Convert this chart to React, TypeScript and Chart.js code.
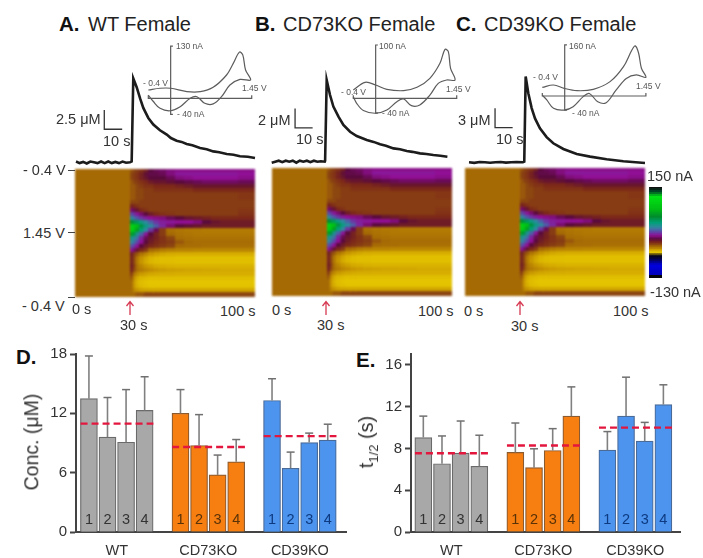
import React, { useEffect, useRef } from "react";
import { Chart, registerables } from "chart.js";

Chart.register(...registerables);

const FONT = '"Liberation Sans", Arial, sans-serif';

// ---------- Panel D / E values ----------
const groupNames = ["WT", "CD73KO", "CD39KO"];
const barNumbers = ["1", "2", "3", "4"];
const concWT = [13.48, 9.6, 9.08, 12.3];
const concCD73 = [12.0, 8.75, 5.77, 7.1];
const concCD39 = [13.3, 6.44, 9.05, 9.3];
const concWTTop = [17.8, 13.6, 14.4, 15.7];
const concCD73Top = [14.4, 11.87, 7.78, 9.35];
const concCD39Top = [15.5, 8.08, 10.0, 10.9];
const concMeans = [10.96, 8.6, 9.7];

const halfWT = [9.05, 6.54, 7.55, 6.29];
const halfCD73 = [7.62, 6.16, 7.81, 11.1];
const halfCD39 = [7.84, 11.1, 8.7, 12.2];
const halfWTTop = [11.1, 9.2, 10.63, 9.27];
const halfCD73Top = [10.44, 7.97, 9.9, 13.9];
const halfCD39Top = [9.62, 14.83, 10.5, 14.1];
const halfMeans = [7.55, 8.29, 10.0];

// ---------- Traces (s, µM) ----------
const traceTimesA = [0, 2, 4, 6, 8, 10, 12, 14, 16, 18, 20, 22, 24, 26, 28, 30.2, 31.1, 32, 33.9, 35.8, 37.6, 40.4, 43.2, 46.9, 50.7, 53, 56.2, 59, 61.8, 65, 69.3, 73, 76.7, 80, 84.2, 88, 91.6, 96, 100];
const traceValuesA = [0.1, -0.1, 0.05, -0.15, 0.1, 0, -0.1, 0.1, -0.1, 0.1, -0.1, 0.05, -0.1, 0.1, -0.05, 0, 0.1, 10.9, 9.75, 8.3, 7.06, 5.76, 4.9, 4.16, 3.6, 3.15, 2.8, 2.65, 2.38, 2.2, 1.86, 1.7, 1.42, 1.3, 1.08, 0.98, 0.78, 0.72, 0.56];
const traceTimesB = [0, 2, 4, 6, 8, 10, 12, 14, 16, 18, 20, 22, 24, 26, 28, 30.2, 30.4, 31.3, 33.2, 35.1, 38, 40.8, 44.6, 48.4, 54.1, 58, 61.7, 65, 69.3, 73, 76.9, 80, 84.4, 88, 92, 96, 100];
const traceValuesB = [-0.1, 0, 0.1, -0.05, 0.1, 0, 0.1, -0.1, 0.1, 0, 0.1, -0.05, 0.1, 0, 0.05, 0, 0.1, 8.45, 6.9, 5.7, 4.66, 3.8, 3.1, 2.66, 2.24, 2.05, 1.8, 1.65, 1.38, 1.28, 1.1, 1.02, 0.86, 0.8, 0.69, 0.62, 0.52];
const traceTimesC = [0, 3, 6, 9, 12, 15, 18, 21, 24, 27, 30.6, 31.4, 32.2, 33.7, 35.6, 37.5, 40.3, 44.1, 47.9, 53.6, 61.2, 68.8, 78.2, 87.7, 100];
const traceValuesC = [0, -0.08, 0.05, 0, -0.08, 0, 0.05, -0.05, 0, 0.05, 0, 0.1, 13.3, 10.7, 8.4, 6.8, 5.27, 3.9, 2.95, 2.07, 1.29, 0.88, 0.47, 0.16, -0.1];

// ---------- Inset voltammograms (V, nA) ----------
const cvPotentialA = [-0.4, -0.19, 0, 0.29, 0.53, 0.76, 1.0, 1.12, 1.23, 1.29, 1.34, 1.43, 1.24, 1.06, 0.91, 0.76, 0.61, 0.47, 0.35, 0.17, -0.01, -0.19, -0.31, -0.4];
const cvCurrentA = [20.7, 25, 25, 16.6, 16.6, 27.4, 58, 87, 115, 108, 70.6, 45.6, 47, 33, 4, -14, -12.5, 4, 0, -21, -31, -25, -8, 8];
const cvPotentialB = [-0.4, -0.19, 0, 0.2, 0.5, 0.74, 0.97, 1.15, 1.24, 1.3, 1.34, 1.42, 1.27, 1.12, 0.97, 0.79, 0.64, 0.5, 0.38, 0.2, 0, -0.22, -0.34, -0.4];
const cvCurrentB = [15.6, 30, 25, 16.9, 14.4, 20.6, 37.5, 65.6, 91.9, 87.5, 56, 34.4, 34.4, 28, 6, -12.5, -13.8, -1.3, -6.3, -21.9, -28, -23, -9.4, 3];
const cvPotentialC = [-0.4, -0.2, -0.01, 0.22, 0.51, 0.81, 1.05, 1.2, 1.26, 1.32, 1.37, 1.45, 1.28, 1.1, 0.92, 0.74, 0.59, 0.44, 0.33, 0.15, -0.01, -0.2, -0.32, -0.4];
const cvCurrentC = [27, 34.5, 24, 16.7, 20.9, 45, 92, 144, 157, 134, 87, 58.6, 66, 55, 19, -21, -18, 8, -2, -33.5, -44, -38.7, -12.5, 3];

// ---------- Colour plot (nA, rows top to bottom, columns by time) ----------
const heatColumnEdges = [0, 30, 31.5, 33, 35, 37.5, 40, 43, 46, 50, 55, 60, 65, 70, 75, 80, 90, 100];
const heatRows = [
  [0, 1, 2, 3, 4, 6, 10, 12, 13, 15, 16, 16, 16, 16, 16, 16, 16],
  [0, 2, 3, 4, 6, 9, 11, 11, 12, 15, 18, 18, 18, 18, 18, 18, 17],
  [0, 2, 3, 4, 6, 8, 10, 10, 10, 12, 15, 16, 17, 17, 17, 17, 16],
  [0, 1, 2, 3, 4, 5, 7, 8, 8, 9, 10, 11, 12, 13, 13, 13, 12],
  [0, 1, 1, 2, 3, 4, 4, 5, 5, 5, 6, 7, 8, 8, 8, 8, 8],
  [0, 1, 1, 2, 2, 3, 3, 4, 4, 4, 4, 4, 5, 5, 5, 5, 5],
  [0, 1, 1, 2, 2, 3, 3, 3, 3, 3, 3, 3, 3, 3, 3, 3, 3.5],
  [0, 1, 1, 2, 2, 3, 3, 3, 3, 3, 3, 3, 3, 3, 3, 3, 3.5],
  [0, 2, 2, 2, 3, 3, 3, 3, 3, 3, 3, 3, 3, 3, 3, 3, 3],
  [0, 6, 5, 4, 3, 3, 3, 3, 3, 3, 3, 3, 3, 3, 3, 3, 3],
  [0, 14, 12, 8, 5, 4, 3, 3, 3, 3, 3, 3, 3, 3, 3, 3, 3.5],
  [0, 25, 22, 18, 14, 10, 7, 5, 4, 3.5, 3, 3, 3, 3, 3, 3, 4],
  [0, 35, 30, 26, 22, 19, 17, 16, 15, 12, 10, 8, 7, 6, 5, 5, 5],
  [0, 60, 55, 50, 42, 34, 28, 22, 19, 18, 17, 17, 15, 10, 8, 7, 7],
  [0, 110, 100, 85, 55, 42, 34, 27, 20, 14, 10, 9, 8, 7, 7, 7, 7],
  [0, 105, 90, 70, 45, 33, 22, 12, 3, -2, -4, -5, -5, -6, -6, -6, -6],
  [0, 70, 55, 38, 28, 18, 10, 6, 3, 0, -3, -4, -5, -5, -5, -5, -5],
  [0, 40, 35, 30, 20, 12, 8, 6, 4, 2, -1, -2, -3, -3, -3, -3, -3],
  [0, 33, 30, 24, 17, 10, 7, 5, 4, 3, 1, 0, -1, -1, -1, -1, -1],
  [0, 26, 22, 17, 10, 7, 5, 4, 3, 2, 0, -1, -1, -2, -2, -2, -2],
  [0, 18, 14, 8, 5, 3, 0, -3, -6, -8, -9, -9, -10, -10, -10, -10, -10],
  [0, 7, 3, 1, -4, -10, -16, -20, -23, -25, -26, -26, -26, -26, -26, -26, -26],
  [0, 6, 2, -5, -14, -22, -28, -31, -32, -32, -33, -33, -33, -33, -33, -33, -33],
  [0, 6, 2, -6, -16, -24, -29, -31, -32, -32, -33, -33, -33, -33, -33, -33, -33],
  [0, 7, 3, -3, -10, -16, -20, -24, -26, -27, -28, -28, -28, -28, -28, -28, -28],
  [0, 6, 2, -2, -6, -10, -13, -16, -18, -20, -21, -22, -22, -23, -23, -24, -24],
  [0, 3, -4, -12, -18, -21, -23, -24, -25, -25, -26, -26, -26, -26, -26, -26, -26],
  [0, 1, -12, -24, -29, -31, -32, -32, -32, -32, -32, -32, -32, -32, -32, -32, -32],
  [0, 0, -16, -28, -32, -34, -35, -35, -35, -35, -35, -35, -35, -35, -35, -35, -35],
  [0, 0, -16, -26, -31, -33, -34, -34, -34, -34, -34, -34, -34, -34, -34, -34, -34],
  [0, 0, -10, -16, -20, -22, -23, -23, -23, -23, -23, -23, -23, -23, -23, -23, -23],
  [0, 0, 0, 1, 1, 2, 2, 2, 2, 2, 2, 2, 2, 2, 2, 2, 2],
];
const colorBarValues = [150, 146, 141, 136, 130, 124, 118, 112, 105, 98, 92, 85, 79, 72, 66, 60, 55, 50, 45, 40, 35, 31, 27, 23, 19, 15, 11, 8, 5, 2, 0, -10, -25, -35, -38, -42, -48, -56, -65, -75, -85, -95, -105, -115, -125, -130];

const colorStopValues = [150, 140, 125, 85, 60, 45, 33, 25, 17, 10, 5, 2, 0, -15, -35, -40, -80, -125, -130];
const colorStopRGB = [
  [15, 15, 15], [0, 70, 40], [0, 225, 20], [0, 190, 20], [0, 140, 45], [0, 160, 120], [50, 135, 160], [90, 75, 170],
  [145, 15, 150], [90, 10, 60], [125, 40, 25], [140, 70, 16], [166, 106, 5], [198, 148, 0], [228, 196, 0],
  [5, 5, 25], [0, 0, 225], [0, 0, 190], [5, 5, 10],
];

function heatColor(v: number) {
  for (let i = 0; i < colorStopValues.length - 1; i++) {
    const a = colorStopValues[i];
    const b = colorStopValues[i + 1];
    if (v <= a && v >= b) {
      const f = (a - v) / (a - b);
      const c = colorStopRGB[i].map((n, k) => Math.round(n + (colorStopRGB[i + 1][k] - n) * f));
      return `rgb(${c[0]},${c[1]},${c[2]})`;
    }
  }
  return "rgb(0,0,0)";
}

const baseOptions = () => ({
  responsive: false,
  animation: false as const,
  events: [] as any[],
  layout: { padding: 0 },
  plugins: { legend: { display: false }, tooltip: { enabled: false }, title: { display: false } },
});

const lineSet = (xs: number[], ys: number[], color: string, width: number, tension = 0, extra: any = {}) => ({
  data: xs.map((x, i) => ({ x, y: ys[i] })),
  showLine: true,
  pointRadius: 0,
  borderColor: color,
  borderWidth: width,
  tension,
  clip: false,
  ...extra,
});

type Rect = { left: number; top: number; width: number; height: number };

// scale ranges that put x0 / y0 at page pixels
function xyScales(r: Rect, x0: number, xv0: number, pxX: number, y0: number, pxY: number) {
  return {
    x: { type: "linear", display: false, min: xv0 + (r.left - x0) / pxX, max: xv0 + (r.left + r.width - x0) / pxX },
    y: { type: "linear", display: false, max: (y0 - r.top) / pxY, min: (y0 - r.top - r.height) / pxY },
  };
}

function traceConfig(r: Rect, ts: number[], vs: number[], x0: number, pxS: number, y0: number, pxU: number, barT: number, barY: number, barU: number) {
  return {
    type: "scatter",
    data: {
      datasets: [
        lineSet(ts, vs, "#1c1c1c", 2.6),
        lineSet([barT, barT, barT + 10], [barY + barU, barY, barY], "#333", 1.3),
      ],
    },
    options: { ...baseOptions(), scales: xyScales(r, x0, 0, pxS, y0, pxU) },
  };
}

function cvConfig(r: Rect, vs: number[], is: number[], x0: number, y0: number, pxV: number, pxI: number, topI: number, botI: number) {
  const tick = 3 / pxI;
  const gray = "#5c5c5c";
  return {
    type: "scatter",
    data: {
      datasets: [
        lineSet(vs, is, gray, 1.2, 0.35),
        lineSet([0.04, 0, 0, 0.04], [topI, topI, botI, botI], gray, 1.2),
        lineSet([-0.4, -0.4, 1.45, 1.45], [tick, 0, 0, tick], gray, 1.2),
      ],
    },
    options: { ...baseOptions(), scales: xyScales(r, x0, -0.4, pxV, y0, pxI) },
  };
}

const rowLabels = heatRows.map((_, i) => String(i));

function heatConfig() {
  return {
    type: "bar",
    data: {
      labels: rowLabels,
      datasets: heatColumnEdges.slice(0, -1).map((t0, k) => ({
        data: heatRows.map(() => [t0, heatColumnEdges[k + 1]]),
        backgroundColor: heatRows.map((row) => heatColor(row[k])),
        barPercentage: 1,
        categoryPercentage: 1,
        grouped: false,
        borderWidth: 0,
        inflateAmount: 1,
      })),
    },
    options: {
      ...baseOptions(),
      indexAxis: "y",
      scales: {
        x: { type: "linear", display: false, min: 0, max: 100 },
        y: { type: "category", display: false },
      },
    },
  };
}

function colorBarConfig() {
  return {
    type: "bar",
    data: {
      labels: colorBarValues.map(String),
      datasets: [
        {
          data: colorBarValues.map(() => [0, 1]),
          backgroundColor: colorBarValues.map(heatColor),
          barPercentage: 1,
          categoryPercentage: 1,
          borderWidth: 0,
          inflateAmount: 1,
        },
      ],
    },
    options: {
      ...baseOptions(),
      indexAxis: "y",
      scales: { x: { type: "linear", display: false, min: 0, max: 1 }, y: { type: "category", display: false } },
    },
  };
}

const GROUP_STEP = 4.93;
const groupCenters = groupNames.map((_, g) => g * GROUP_STEP + 1.5);
const barFill = ["#A8A8A8", "#F77F11", "#4C94EE"];
const barEdge = ["#6a6a6a", "#8a5a30", "#4a6a98"];
const numberInk = ["#333333", "#5a3208", "#0d3a80"];

const numberPlugin = {
  id: "barNumbers",
  afterDatasetsDraw(chart: any) {
    const ctx = chart.ctx;
    ctx.save();
    ctx.font = `14.5px ${FONT}`;
    ctx.textAlign = "center";
    ctx.textBaseline = "middle";
    chart.data.datasets.forEach((ds: any, i: number) => {
      if (ds.type !== "bar") return;
      ctx.fillStyle = ds.numberInk;
      chart.getDatasetMeta(i).data.forEach((el: any, j: number) => {
        ctx.fillText(barNumbers[j], el.x, chart.scales.y.getPixelForValue(0) - 12);
      });
    });
    ctx.restore();
  },
};

function barConfig(groups: number[][], tops: number[][], means: number[], yMax: number, step: number, xMin: number, xMax: number, axisW: number, padRight: number) {
  const at = (g: number, i: number) => g * GROUP_STEP + i;
  const meanSets = means.map((m, g) => ({
    type: "line",
    ...lineSet([at(g, -0.45), at(g, 3.47)], [m, m], "#E3173E", 2.4, 0, { borderDash: [7, 4] }),
  }));
  const errSets: any[] = [];
  groups.forEach((vals, g) =>
    vals.forEach((v, i) =>
      errSets.push({
        type: "line",
        ...lineSet([at(g, i), at(g, i)], [v, tops[g][i]], "#808080", 1.6),
        pointRadius: [0, 4],
        pointStyle: "line",
        pointBorderColor: "#707070",
        pointBorderWidth: 1.5,
      })
    )
  );
  const barSets = groups.map((vals, g) => ({
    type: "bar",
    data: vals.map((v, i) => ({ x: at(g, i), y: v })),
    backgroundColor: barFill[g],
    borderColor: barEdge[g],
    borderWidth: 1.2,
    barThickness: 17,
    grouped: false,
    numberInk: numberInk[g],
  }));
  return {
    type: "bar",
    data: { datasets: [...meanSets, ...errSets, ...barSets] },
    plugins: [numberPlugin],
    options: {
      ...baseOptions(),
      layout: { padding: { top: 4.5, right: padRight, left: 0, bottom: 0 } },
      scales: {
        x: {
          type: "linear",
          min: xMin,
          max: xMax,
          offset: false,
          grid: { display: false, drawTicks: false },
          border: { color: "#444", width: 2 },
          afterBuildTicks: (s: any) => {
            s.ticks = groupCenters.map((value) => ({ value }));
          },
          afterFit: (s: any) => {
            s.height = 26;
          },
          ticks: {
            autoSkip: false,
            maxRotation: 0,
            padding: 10,
            color: "#333",
            font: { family: FONT, size: 14.5 },
            callback: (v: number) => groupNames[groupCenters.indexOf(v)],
          },
        },
        y: {
          type: "linear",
          min: 0,
          max: yMax,
          afterFit: (s: any) => {
            s.width = axisW;
          },
          grid: { drawOnChartArea: false, tickLength: 6, tickColor: "#444", tickWidth: 2 },
          border: { color: "#444", width: 2 },
          ticks: { stepSize: step, includeBounds: false, padding: 3, color: "#333", font: { family: FONT, size: 15 } },
        },
      },
    },
  };
}

function ChartBox({ rect, make, blur }: { rect: Rect; make: () => any; blur?: number }) {
  const ref = useRef<HTMLCanvasElement>(null);
  useEffect(() => {
    const chart = new Chart(ref.current as HTMLCanvasElement, make());
    return () => chart.destroy();
  }, []);
  return (
    <canvas
      ref={ref}
      width={rect.width}
      height={rect.height}
      style={{
        position: "absolute",
        left: rect.left,
        top: rect.top,
        width: rect.width,
        height: rect.height,
        filter: blur ? `blur(${blur}px)` : undefined,
      }}
    />
  );
}

function Txt({ x, y, size = 14.5, bold, color = "#333", children, extra }: any) {
  return (
    <span
      style={{
        position: "absolute",
        left: x,
        top: y,
        transform: "translateY(-50%)",
        fontFamily: FONT,
        fontSize: size,
        fontWeight: bold ? 700 : 400,
        color,
        lineHeight: 1,
        whiteSpace: "nowrap",
        ...extra,
      }}
    >
      {children}
    </span>
  );
}

function Arrow({ x }: { x: number }) {
  return (
    <svg style={{ position: "absolute", left: x - 5, top: 300, width: 10, height: 16 }} viewBox="0 0 10 16">
      <path d="M5 15V2M1.5 6L5 1.5L8.5 6" fill="none" stroke="#D63A52" strokeWidth="1.3" />
    </svg>
  );
}

function Dash({ y }: { y: number }) {
  return <div style={{ position: "absolute", left: 68, top: y, width: 7, height: 1, background: "#444" }} />;
}

const rA = { left: 70, top: 70, width: 195, height: 100 };
const rB = { left: 266, top: 70, width: 190, height: 100 };
const rC = { left: 463, top: 70, width: 190, height: 100 };
const cA = { left: 140, top: 40, width: 115, height: 80 };
const cB = { left: 345, top: 40, width: 120, height: 80 };
const cC = { left: 535, top: 40, width: 115, height: 80 };
const hA = { left: 75, top: 169, width: 180, height: 128 };
const hB = { left: 272, top: 168, width: 180, height: 128 };
const hC = { left: 465, top: 168, width: 180, height: 128 };

export default function App() {
  return (
    <div style={{ position: "absolute", left: 0, top: 0, width: 703, height: 558, overflow: "hidden", background: "#fff", filter: "blur(0.45px)" }}>
      <Txt x={59} y={24} size={20.5} bold color="#111">A.</Txt>
      <Txt x={88} y={24} size={20} color="#222">WT Female</Txt>
      <Txt x={255} y={24} size={20.5} bold color="#111">B.</Txt>
      <Txt x={283} y={24} size={20} color="#222">CD73KO Female</Txt>
      <Txt x={456} y={24} size={20.5} bold color="#111">C.</Txt>
      <Txt x={484} y={24} size={20} color="#222">CD39KO Female</Txt>

      <ChartBox rect={rA} make={() => traceConfig(rA, traceTimesA, traceValuesA, 76, 1.79, 162.3, 7.7, 15.8, 4.29, 2.5)} />
      <ChartBox rect={rB} make={() => traceConfig(rB, traceTimesB, traceValuesB, 271.7, 1.757, 161.7, 9.66, 13.3, 3.5, 2)} />
      <ChartBox rect={rC} make={() => traceConfig(rC, traceTimesC, traceValuesC, 469, 1.76, 162.3, 6.45, 14.8, 5.38, 3)} />

      <ChartBox rect={cA} make={() => cvConfig(cA, cvPotentialA, cvCurrentA, 148.3, 98.3, 55.9, 0.4016, 130, -40)} />
      <ChartBox rect={cB} make={() => cvConfig(cB, cvPotentialB, cvCurrentB, 353.3, 98.3, 55.9, 0.533, 100, -28)} />
      <ChartBox rect={cC} make={() => cvConfig(cC, cvPotentialC, cvCurrentC, 542.3, 96, 56, 0.319, 160, -44)} />

      <Txt x={176} y={46} size={8.5} color="#555">130 nA</Txt>
      <Txt x={143} y={83} size={8.5} color="#555">- 0.4 V</Txt>
      <Txt x={242} y={88} size={8.5} color="#555">1.45 V</Txt>
      <Txt x={177} y={114} size={8.5} color="#555">- 40 nA</Txt>
      <Txt x={379} y={46} size={8.5} color="#555">100 nA</Txt>
      <Txt x={341} y={92} size={8.5} color="#555">- 0.4 V</Txt>
      <Txt x={446} y={89} size={8.5} color="#555">1.45 V</Txt>
      <Txt x={382} y={113} size={8.5} color="#555">- 40 nA</Txt>
      <Txt x={569} y={46} size={8.5} color="#555">160 nA</Txt>
      <Txt x={533} y={77} size={8.5} color="#555">- 0.4 V</Txt>
      <Txt x={636} y={86} size={8.5} color="#555">1.45 V</Txt>
      <Txt x={572} y={113} size={8.5} color="#555">- 40 nA</Txt>

      <Txt x={56} y={119}>2.5 μM</Txt>
      <Txt x={103} y={141}>10 s</Txt>
      <Txt x={258} y={120}>2 μM</Txt>
      <Txt x={296} y={139}>10 s</Txt>
      <Txt x={458} y={120}>3 μM</Txt>
      <Txt x={496} y={139}>10 s</Txt>

      <ChartBox rect={hA} make={heatConfig} blur={1.3} />
      <ChartBox rect={hB} make={heatConfig} blur={1.3} />
      <ChartBox rect={hC} make={heatConfig} blur={1.3} />
      <ChartBox rect={{ left: 649, top: 187, width: 13, height: 91 }} make={colorBarConfig} blur={0.5} />

      <Txt x={23} y={170}>- 0.4 V</Txt>
      <Txt x={23} y={233}>1.45 V</Txt>
      <Txt x={22} y={306}>- 0.4 V</Txt>
      <Dash y={170} />
      <Dash y={232} />
      <Dash y={297} />

      <Txt x={72} y={309}>0 s</Txt>
      <Txt x={220} y={311}>100 s</Txt>
      <Arrow x={130} />
      <Txt x={120} y={325}>30 s</Txt>
      <Txt x={272} y={310}>0 s</Txt>
      <Txt x={418} y={311}>100 s</Txt>
      <Arrow x={326} />
      <Txt x={317} y={325}>30 s</Txt>
      <Txt x={464} y={311}>0 s</Txt>
      <Txt x={613} y={311}>100 s</Txt>
      <Arrow x={520} />
      <Txt x={511} y={326}>30 s</Txt>

      <Txt x={647} y={176}>150 nA</Txt>
      <Txt x={650} y={292}>-130 nA</Txt>

      <Txt x={16} y={357} size={20.5} bold color="#111">D.</Txt>
      <Txt x={356} y={360} size={20.5} bold color="#111">E.</Txt>

      <ChartBox
        rect={{ left: 0, top: 342, width: 352, height: 216 }}
        make={() => barConfig([concWT, concCD73, concCD39], [concWTTop, concCD73Top, concCD39Top], concMeans, 18, 6, -0.696, 13.87, 76, 4)}
      />
      <ChartBox
        rect={{ left: 352, top: 342, width: 351, height: 216 }}
        make={() => barConfig([halfWT, halfCD73, halfCD39], [halfWTTop, halfCD73Top, halfCD39Top], halfMeans, 17.05, 4, -0.66, 13.75, 59, 23)}
      />

      <Txt x={32} y={442} size={19.5} extra={{ transform: "translate(-50%,-50%) rotate(-90deg)" }}>Conc. (μM)</Txt>
      <Txt x={366} y={442} size={20} extra={{ transform: "translate(-50%,-50%) rotate(-90deg)" }}>
        t<sub style={{ fontSize: 13, lineHeight: 0 }}>1/2</sub> (s)
      </Txt>
    </div>
  );
}
